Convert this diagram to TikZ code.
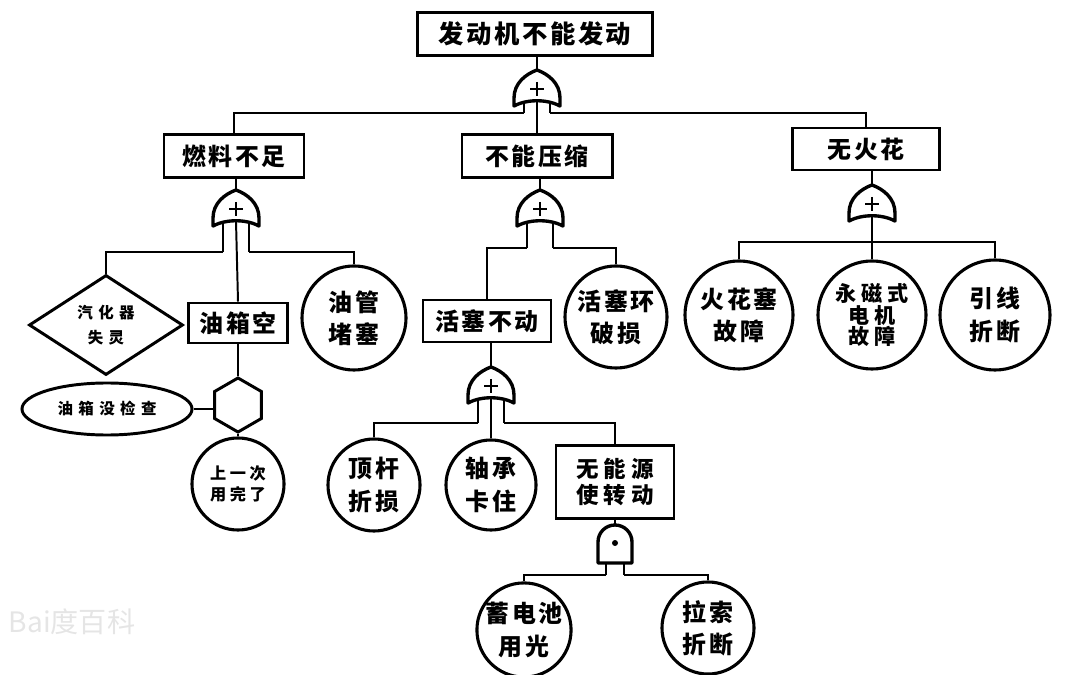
\documentclass[tikz,border=0pt]{standalone}
\usepackage{fontspec}
\usetikzlibrary{shapes.geometric}
\setmainfont{Noto Sans CJK SC}
\newfontfamily\cjkA[LetterSpace=10]{Noto Sans CJK SC}
\newfontfamily\cjkB[LetterSpace=35]{Noto Sans CJK SC}
\newfontfamily\cjkC[LetterSpace=22]{Noto Sans CJK SC}
\newcommand\orgate[3]{%
  \draw[gate] (#2-23,#3+36) -- (#2-23,#3+28) .. controls (#2-23,#3+13) and (#2-11,#3+4) .. (#2,#3) .. controls (#2+11,#3+4) and (#2+23,#3+13) .. (#2+23,#3+28) -- (#2+23,#3+36) .. controls (#2+10,#3+29) and (#2-10,#3+29) .. cycle;
  \draw[line width=1.6pt] (#2-7,#3+19) -- (#2+7,#3+19) (#2,#3+12) -- (#2,#3+26);
  \coordinate (#1-in) at (#2,#3);
  \coordinate (#1-out) at (#2,#3+31);
}
\newcommand\orlegs[4]{%
  \draw[conn] (#2-13,#3+33) -- (#2-13,#4) coordinate (#1-l);
  \draw[conn] (#2+13,#3+33) -- (#2+13,#4) coordinate (#1-r);
}
\newcommand\andgate[4]{%
  \draw[gate] (#2-17,#3+38) -- (#2-17,#3+17) .. controls (#2-17,#3+7.6) and (#2-9.4,#3) .. (#2,#3) .. controls (#2+9.4,#3) and (#2+17,#3+7.6) .. (#2+17,#3+17) -- (#2+17,#3+38) -- cycle;
  \fill (#2,#3+18) circle (3);
  \coordinate (#1-in) at (#2,#3);
  \draw[conn] (#2-9,#3+38) -- (#2-9,#4) coordinate (#1-l);
  \draw[conn] (#2+9,#3+38) -- (#2+9,#4) coordinate (#1-r);
}
\begin{document}
\begin{tikzpicture}[x=0.025cm,y=-0.025cm,
  box/.style={draw, line width=2.1pt, inner sep=0pt, align=center, font=\fontsize{17}{22}\selectfont\cjkA\bfseries},
  ev/.style={circle, draw, line width=2.2pt, inner sep=0pt, align=center, font=\fontsize{17}{23}\selectfont\cjkA\bfseries},
  small/.style={font=\fontsize{11}{18}\selectfont\cjkB\bfseries},
  conn/.style={line width=1.4pt},
  gate/.style={line width=2.4pt, fill=white, line join=round}]
\useasboundingbox (0,0) rectangle (1080,675);
% watermark
\node[text=black!10, font=\fontsize{20}{20}\selectfont] (wm) at (72,622) {Bai度百科};
% top level
\node[box, minimum width=5.875cm, minimum height=1.075cm, font=\fontsize{18}{22}\selectfont\cjkA\bfseries] (top) at (535,34) {发动机不能发动};
\node[box, minimum width=3.5cm, minimum height=1.075cm] (fuel) at (234,156) {燃料不足};
\node[box, minimum width=3.75cm, minimum height=1.075cm] (comp) at (537,156) {不能压缩};
\node[box, minimum width=3.675cm, minimum height=1.05cm] (nospark) at (866,149) {无火花};
% fuel branch
\node[diamond, draw, line width=2.1pt, inner sep=0pt, minimum width=3.85cm, minimum height=2.5cm, align=center, small] (carb) at (106,325) {汽化器\\失灵};
\node[box, minimum width=2.475cm, minimum height=1.0cm] (tank) at (238,323) {油箱空};
\node[ev, minimum size=2.6cm] (pipe) at (354,318) {油管\\堵塞};
\node[regular polygon, regular polygon sides=6, shape border rotate=30, draw, line width=2.1pt, inner sep=0pt, minimum size=1.35cm] (inh) at (238,405) {};
\node[ellipse, draw, line width=2.1pt, inner sep=0pt, minimum width=4.25cm, minimum height=1.3cm, small] (check) at (107,409) {油箱没检查};
\node[ev, minimum size=2.3cm, font=\fontsize{11.5}{15}\selectfont\cjkC\bfseries] (empty) at (238,484) {上一次\\用完了};
% compression branch
\node[box, minimum width=3.2cm, minimum height=1.05cm] (piston) at (487,321) {活塞不动};
\node[ev, minimum size=2.55cm] (ring) at (616,317) {活塞环\\破损};
\node[ev, minimum size=2.3cm] (rod) at (374,485) {顶杆\\折损};
\node[ev, minimum size=2.25cm] (bearing) at (491,485) {轴承\\卡住};
\node[box, minimum width=2.95cm, minimum height=1.825cm, font=\fontsize{16}{19}\selectfont\cjkC\bfseries] (nopower) at (615,482) {无能源\\使转动};
\node[ev, minimum size=2.2cm] (battery) at (524,630) {蓄电池\\用光};
\node[ev, minimum size=2.3cm] (cable) at (708,628) {拉索\\折断};
% spark branch
\node[ev, minimum size=2.7cm] (sp1) at (739,315) {火花塞\\故障};
\node[ev, minimum size=2.7cm, font=\fontsize{15}{15}\selectfont\cjkC\bfseries] (sp2) at (872,315) {永磁式\\电机\\故障};
\node[ev, minimum size=2.75cm] (sp3) at (995,315) {引线\\折断};

% gate A (top)
\orlegs{gA}{537}{70}{113}
\orgate{gA}{537}{70}
\draw[conn] (gA-in |- top.south) -- (gA-in);
\draw[conn] (gA-l) -| (fuel.north);
\draw[conn] (gA-r) -| (nospark.north);
\draw[conn] (gA-out) -- (comp.north);
% gate B (fuel)
\orlegs{gB}{236}{190}{252}
\orgate{gB}{236}{190}
\draw[conn] (gB-in |- fuel.south) -- (gB-in);
\draw[conn] (gB-l) -| (carb.north);
\draw[conn] (gB-r) -| (pipe.north);
\draw[conn] (gB-out) -- (tank.north);
\draw[conn] (tank.south) -- (inh.corner 1);
\draw[conn] (check.east) -- (inh.west |- check.east);
\draw[conn] (inh.corner 4) -- (empty.north);
% gate C (compression)
\orlegs{gC}{540}{190}{248}
\orgate{gC}{540}{190}
\draw[conn] (gC-in |- comp.south) -- (gC-in);
\draw[conn] (gC-l) -| (piston.north);
\draw[conn] (gC-r) -| (ring.north);
% gate E (piston)
\orlegs{gE}{491}{367}{423}
\orgate{gE}{491}{367}
\draw[conn] (gE-in |- piston.south) -- (gE-in);
\draw[conn] (gE-l) -| (rod.north);
\draw[conn] (gE-r) -| (nopower.north);
\draw[conn] (gE-out) -- (bearing.north);
% gate F (AND)
\andgate{gF}{615}{525}{575}
\draw[conn] (nopower.south) -- (gF-in);
\draw[conn] (gF-l) -| (battery.north);
\draw[conn] (gF-r) -| (cable.north);
% gate D (spark)
\orgate{gD}{872}{185}
\coordinate (gD-bus) at (872,242);
\draw[conn] (gD-in |- nospark.south) -- (gD-in);
\draw[conn] (gD-out) -- (sp2.north);
\draw[conn] (sp1.north) |- (gD-bus) -| (sp3.north);
\end{tikzpicture}
\end{document}
